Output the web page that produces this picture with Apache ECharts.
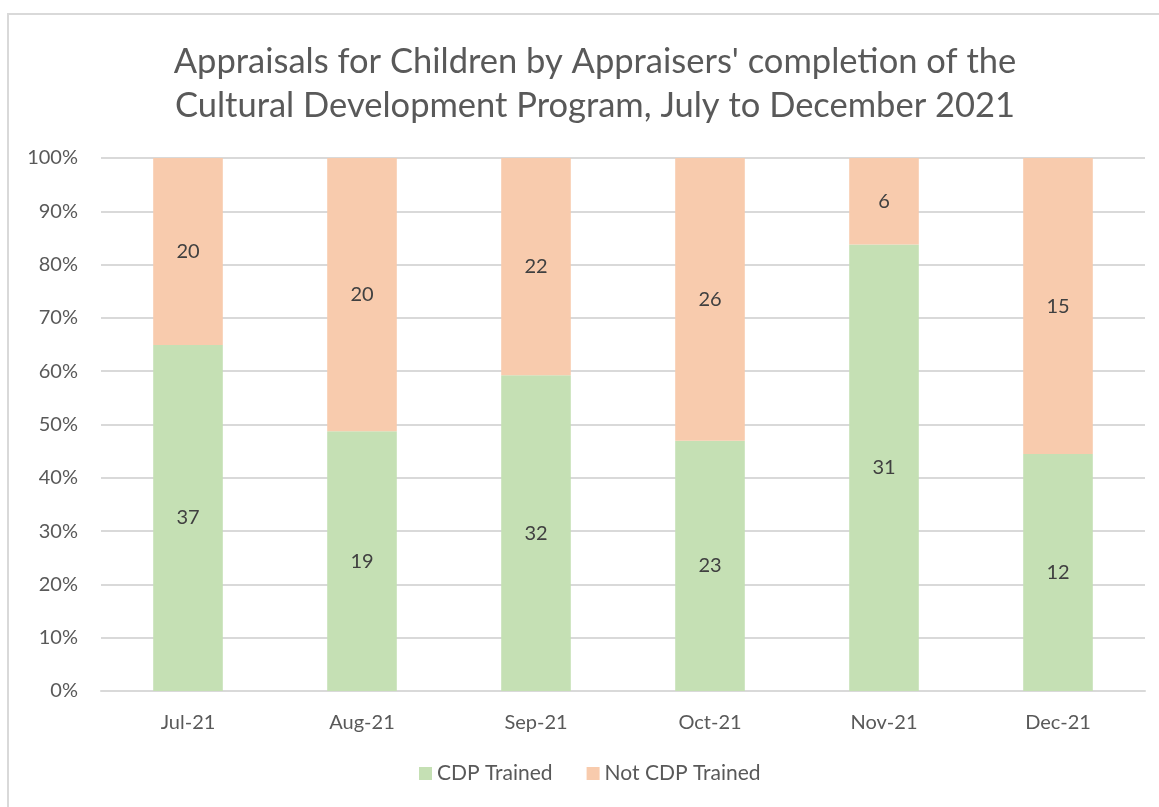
<!DOCTYPE html>
<html>
<head>
<meta charset="utf-8">
<script src="https://cdn.jsdelivr.net/npm/echarts@6/dist/echarts.min.js"></script>
<style>
  html, body { margin: 0; padding: 0; background: #fff; }
  #chart { width: 1159px; height: 807px; }
</style>
</head>
<body>
<div id="chart"></div>
<script>
const MONTHS = ['Jul-21', 'Aug-21', 'Sep-21', 'Oct-21', 'Nov-21', 'Dec-21'];
const CDP_TRAINED = [37, 19, 32, 23, 31, 12];
const NOT_CDP_TRAINED = [20, 20, 22, 26, 6, 15];
const SERIES_NAMES = ['CDP Trained', 'Not CDP Trained'];
const BAR_COLORS = ['#c5e0b4', '#f8cbad'];
const TEXT_GREY = '#595959';
const FONT = 'Lato, "Open Sans", sans-serif';

// 100% stacked: each segment as share of month total, label keeps the count
function toShare(counts, other) {
  return counts.map((v, i) => ({ value: v / (v + other[i]) * 100, count: v }));
}

const chart = echarts.init(document.getElementById('chart'));
const labelStyle = {
  show: true,
  position: 'inside',
  color: '#404040',
  fontFamily: FONT,
  fontSize: 20,
  formatter: p => p.data.count
};

chart.setOption({
  animation: false,
  title: {
    text: "Appraisals for Children by Appraisers' completion of the\nCultural Development Program, July to December 2021",
    left: 590,
    textAlign: 'center',
    top: 35,
    textStyle: { color: TEXT_GREY, fontFamily: FONT, fontSize: 34.5, fontWeight: 'normal', lineHeight: 44 }
  },
  graphic: [{
    type: 'rect',
    shape: { x: 8, y: 14, width: 1170, height: 810 },
    style: { fill: 'none', stroke: '#d9d9d9', lineWidth: 2 },
    silent: true
  }],
  color: BAR_COLORS,
  legend: {
    bottom: 18,
    left: 414,
    itemWidth: 13,
    itemHeight: 13,
    itemGap: 34,
    icon: 'rect',
    textStyle: { color: TEXT_GREY, fontFamily: FONT, fontSize: 21 },
    data: SERIES_NAMES
  },
  grid: { left: 101, right: 14, top: 158, bottom: 116 },
  xAxis: {
    type: 'category',
    data: MONTHS,
    axisLine: { lineStyle: { color: '#d9d9d9', width: 2 } },
    axisTick: { show: false },
    axisLabel: { color: TEXT_GREY, fontFamily: FONT, fontSize: 20, margin: 22 }
  },
  yAxis: {
    type: 'value',
    min: 0,
    max: 100,
    interval: 10,
    axisLine: { show: false },
    axisTick: { show: false },
    axisLabel: { color: TEXT_GREY, fontFamily: FONT, fontSize: 20, margin: 23, formatter: '{value}%' },
    splitLine: { lineStyle: { color: '#d9d9d9', width: 2 } }
  },
  series: [
    {
      name: SERIES_NAMES[0],
      type: 'bar',
      stack: 'total',
      barWidth: '40%',
      data: toShare(CDP_TRAINED, NOT_CDP_TRAINED),
      label: labelStyle
    },
    {
      name: SERIES_NAMES[1],
      type: 'bar',
      stack: 'total',
      barWidth: '40%',
      data: toShare(NOT_CDP_TRAINED, CDP_TRAINED),
      label: labelStyle
    }
  ]
});
</script>
</body>
</html>
